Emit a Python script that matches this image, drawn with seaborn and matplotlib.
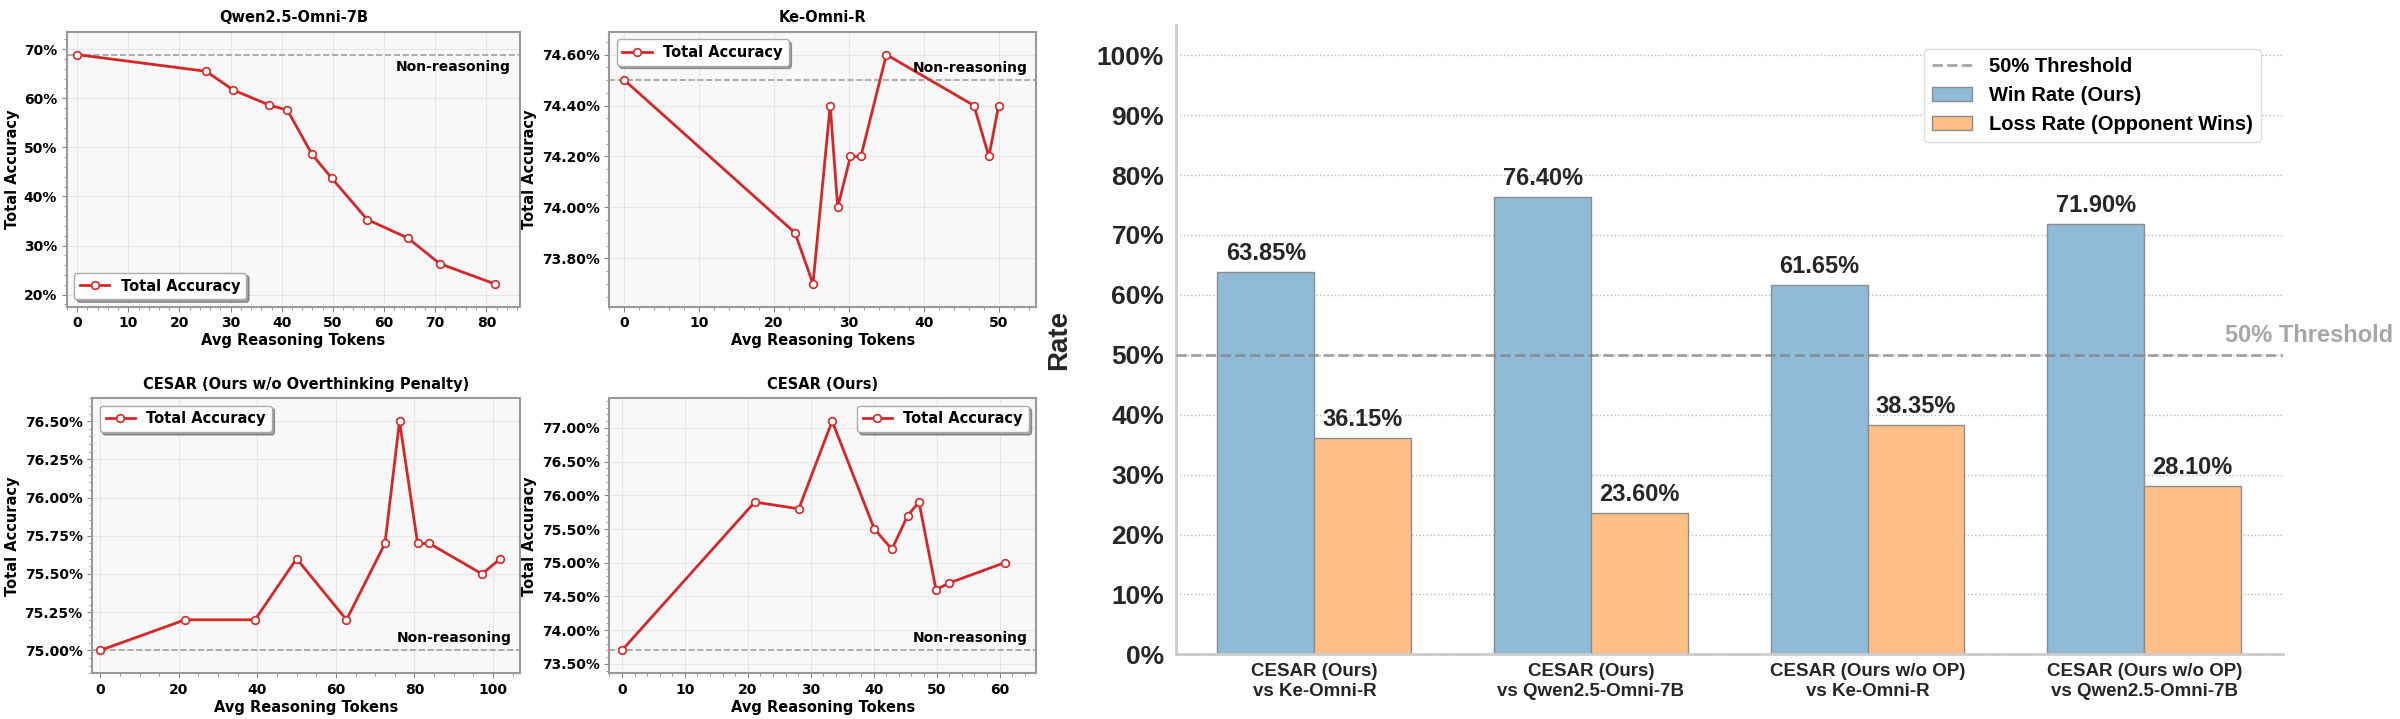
import numpy as np
import pandas as pd
import seaborn as sns
import matplotlib.pyplot as plt
from matplotlib.ticker import PercentFormatter, MultipleLocator
from matplotlib.lines import Line2D
from matplotlib.patches import Patch

# ---- data: accuracy vs. average reasoning tokens ----
titles = ['Qwen2.5-Omni-7B', 'Ke-Omni-R',
          'CESAR (Ours w/o Overthinking Penalty)', 'CESAR (Ours)']

qwen_tokens = [0, 25.2, 30.5, 37.6, 41.1, 45.9, 49.8, 56.7, 64.7, 70.9, 81.6]
qwen_acc = [68.9, 65.5, 61.7, 58.6, 57.6, 48.6, 43.7, 35.3, 31.5, 26.3, 22.2]
qwen_base = 68.9

ke_tokens = [0, 22.8, 25.2, 27.5, 28.5, 30.2, 31.6, 35.0, 46.7, 48.7, 50.0]
ke_acc = [74.5, 73.9, 73.7, 74.4, 74.0, 74.2, 74.2, 74.6, 74.4, 74.2, 74.4]
ke_base = 74.5

noop_tokens = [0, 21.6, 39.4, 50.0, 62.7, 72.5, 76.2, 80.8, 83.8, 97.2, 101.9]
noop_acc = [75.0, 75.2, 75.2, 75.6, 75.2, 75.7, 76.5, 75.7, 75.7, 75.5, 75.6]
noop_base = 75.0

cesar_tokens = [0, 21.1, 28.1, 33.4, 40.1, 42.9, 45.4, 47.2, 49.9, 52.0, 60.8]
cesar_acc = [73.7, 75.9, 75.8, 77.1, 75.5, 75.2, 75.7, 75.9, 74.6, 74.7, 75.0]
cesar_base = 73.7

# ---- data: pairwise win / loss rates ----
comparisons = ['CESAR (Ours)\nvs Ke-Omni-R', 'CESAR (Ours)\nvs Qwen2.5-Omni-7B',
               'CESAR (Ours w/o OP)\nvs Ke-Omni-R', 'CESAR (Ours w/o OP)\nvs Qwen2.5-Omni-7B']
win_rate = [63.85, 76.40, 61.65, 71.90]
loss_rate = [36.15, 23.60, 38.35, 28.10]
win_label = 'Win Rate (Ours)'
loss_label = 'Loss Rate (Opponent Wins)'

RED = '#d62728'
BLUE = '#8fbbd9'    # tab:blue at half strength
ORANGE = '#ffbf86'  # tab:orange at half strength

fig = plt.figure(figsize=(24, 7.19), dpi=100)

# left 2x2 block
rects = [[0.0279, 0.5734, 0.1888, 0.3825],
         [0.2539, 0.5734, 0.1778, 0.3825],
         [0.0385, 0.0636, 0.1782, 0.3825],
         [0.2539, 0.0636, 0.1778, 0.3825]]
legend_locs = ['lower left', 'upper left', 'upper left', 'upper right']
note_below = [True, False, False, False]

series = [(qwen_tokens, qwen_acc, qwen_base),
          (ke_tokens, ke_acc, ke_base),
          (noop_tokens, noop_acc, noop_base),
          (cesar_tokens, cesar_acc, cesar_base)]

for i, (tokens, acc, base) in enumerate(series):
    ax = fig.add_axes(rects[i])
    ax.set_facecolor('#f8f8f8')
    sns.lineplot(x=tokens, y=acc, ax=ax, color=RED, linewidth=2, marker='o',
                 markersize=5.5, markerfacecolor='white', markeredgecolor=RED,
                 markeredgewidth=1.2, label='Total Accuracy', zorder=3)
    ax.axhline(base, color='#a0a0a0', ls='--', lw=1.2, zorder=2)

    lo = min(min(acc), base)
    hi = max(max(acc), base)
    r = hi - lo
    ax.set_ylim(lo - 0.1 * r, hi + 0.1 * r)
    ax.set_xlim(-2, max(tokens) + 5)
    ax.yaxis.set_major_formatter(PercentFormatter(100))
    ax.minorticks_on()
    ax.grid(True, which='major', color='#e6e6e6', lw=0.8)
    ax.set_axisbelow(True)
    for s in ax.spines.values():
        s.set_color('#999999')
        s.set_linewidth(1.5)
    ax.tick_params(which='both', colors='#888888', labelcolor='black', labelsize=10)
    for lab in ax.get_xticklabels() + ax.get_yticklabels():
        lab.set_fontweight('bold')

    ax.set_title(titles[i], fontsize=10.5, fontweight='bold', pad=7)
    ax.set_xlabel('Avg Reasoning Tokens', fontsize=10.5, fontweight='bold', labelpad=2)
    ax.set_ylabel('Total Accuracy', fontsize=10.5, fontweight='bold', labelpad=3)

    if note_below[i]:
        ax.annotate('Non-reasoning', xy=(0.98, base), xycoords=('axes fraction', 'data'),
                    xytext=(0, -4), textcoords='offset points', ha='right', va='top',
                    fontsize=10, fontweight='semibold')
    else:
        ax.annotate('Non-reasoning', xy=(0.98, base), xycoords=('axes fraction', 'data'),
                    xytext=(0, 4), textcoords='offset points', ha='right', va='bottom',
                    fontsize=10, fontweight='semibold')

    ax.legend(loc=legend_locs[i], shadow=True, fancybox=True, framealpha=1,
              edgecolor='#aaaaaa', prop={'weight': 'bold', 'size': 10.5})

# right: win / loss bars
df_bar = pd.DataFrame({
    'Comparison': comparisons * 2,
    'Rate': win_rate + loss_rate,
    'Outcome': [win_label] * len(win_rate) + [loss_label] * len(loss_rate),
})

with sns.axes_style('whitegrid'):
    axb = fig.add_axes([0.49, 0.0899, 0.4611, 0.8750])

sns.barplot(data=df_bar, x='Comparison', y='Rate', hue='Outcome',
            palette=[BLUE, ORANGE], saturation=1, edgecolor='#8c8c8c',
            linewidth=1, width=0.7, errorbar=None, legend=False, ax=axb)

FONT_B = ['Liberation Sans', 'DejaVu Sans']

for cont in axb.containers:
    axb.bar_label(cont, fmt='%.2f%%', padding=5, fontsize=17, fontweight='bold',
                  color='#262626', family=FONT_B)

axb.axhline(50, color='gray', ls='--', lw=2, alpha=0.7, zorder=4)
axb.text(3.29, 51.3, '50% Threshold', color='gray', alpha=0.7, fontsize=17,
         fontweight='bold', family=FONT_B, ha='left', va='bottom', clip_on=False)

axb.set_ylim(0, 105)
axb.yaxis.set_major_locator(MultipleLocator(10))
axb.yaxis.set_major_formatter(PercentFormatter(100, decimals=0))
axb.grid(axis='y', ls=':', color='#b8b8b8', lw=1)
axb.grid(axis='x', visible=False)
axb.set_axisbelow(True)
sns.despine(ax=axb)
for s in ['left', 'bottom']:
    axb.spines[s].set_color('#cccccc')
    axb.spines[s].set_linewidth(2)

axb.set_xlabel('')
axb.set_ylabel('Rate', fontsize=20, fontweight='bold', family=FONT_B, labelpad=18)
axb.tick_params(axis='y', labelsize=19, pad=5)
axb.tick_params(axis='x', labelsize=13.5, pad=3)
for lab in axb.get_yticklabels() + axb.get_xticklabels():
    lab.set_fontweight('bold')
    lab.set_family(FONT_B)
    lab.set_color('#262626')

handles = [Line2D([0], [0], color='gray', ls='--', lw=2, alpha=0.7),
           Patch(facecolor=BLUE, edgecolor='#8c8c8c'),
           Patch(facecolor=ORANGE, edgecolor='#8c8c8c')]
axb.legend(handles, ['50% Threshold', win_label, loss_label], loc='upper right',
           bbox_to_anchor=(0.98, 0.963), borderaxespad=0, frameon=True,
           edgecolor='#dddddd', facecolor='white', framealpha=1,
           prop={'weight': 'bold', 'size': 14.5, 'family': FONT_B})

fig.savefig('out.png', dpi=100)
